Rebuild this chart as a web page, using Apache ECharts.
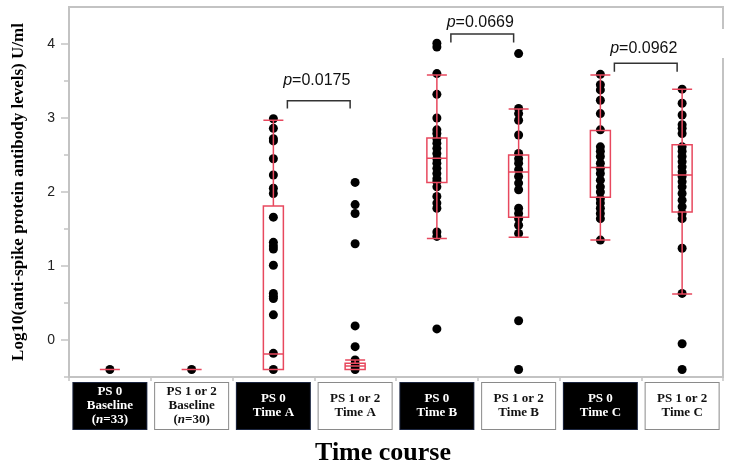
<!DOCTYPE html>
<html>
<head>
<meta charset="utf-8">
<script src="https://cdn.jsdelivr.net/npm/echarts@6/dist/echarts.min.js"></script>
<style>
  html, body { margin: 0; padding: 0; background: #fff; }
  #chart { width: 730px; height: 472px; }
</style>
</head>
<body>
<div id="chart"></div>
<script>
  // category labels (rich text: {i|n} is italic)
  const categories = [
    'PS 0\nBaseline\n({i|n}=33)', 'PS 1 or 2\nBaseline\n({i|n}=30)',
    'PS 0\nTime A', 'PS 1 or 2\nTime A',
    'PS 0\nTime B', 'PS 1 or 2\nTime B',
    'PS 0\nTime C', 'PS 1 or 2\nTime C'
  ];
  const darkLabel = [true, false, true, false, true, false, true, false];

  // y axis ticks
  const yMajorTicks = [0, 1, 2, 3, 4];
  const yMinorTicks = [-0.5, 0.5, 1.5, 2.5, 3.5];

  // box stats per group: [lower whisker, Q1, median, Q3, upper whisker]
  const boxStats = [
    [-0.398, -0.398, -0.398, -0.398, -0.398],
    [-0.398, -0.398, -0.398, -0.398, -0.398],
    [-0.398, -0.398, -0.19, 1.81, 2.97],
    [-0.398, -0.398, -0.35, -0.315, -0.27],
    [1.37, 2.13, 2.455, 2.73, 3.58],
    [1.39, 1.66, 2.27, 2.50, 3.12],
    [1.35, 1.93, 2.33, 2.83, 3.58],
    [0.62, 1.73, 2.23, 2.64, 3.39]
  ];

  // individual points per group (log10 U/ml)
  const ps0Baseline = [-0.398];
  const ps12Baseline = [-0.398];
  const ps0TimeA = [2.99, 2.86, 2.72, 2.69, 2.45, 2.23, 2.05, 1.98, 1.66, 1.32, 1.27, 1.23, 1.01, 0.63, 0.59, 0.56, 0.34, -0.18, -0.398];
  const ps12TimeA = [2.13, 1.83, 1.71, 1.30, 0.19, -0.09, -0.27, -0.32, -0.36, -0.398];
  const ps0TimeB = [4.01, 3.96, 3.60, 3.32, 3.00, 2.84, 2.79, 2.72, 2.66, 2.59, 2.52, 2.45, 2.39, 2.32, 2.25, 2.18, 2.14, 2.07, 1.94, 1.85, 1.78, 1.46, 1.40, 0.15];
  const ps12TimeB = [3.87, 3.13, 3.06, 2.97, 2.77, 2.52, 2.45, 2.39, 2.30, 2.21, 2.12, 2.03, 1.78, 1.71, 1.64, 1.55, 1.44, 0.26, -0.398];
  const ps0TimeC = [3.59, 3.45, 3.38, 3.24, 3.06, 2.84, 2.61, 2.55, 2.48, 2.39, 2.32, 2.25, 2.16, 2.07, 2.00, 1.91, 1.85, 1.78, 1.71, 1.64, 1.35];
  const ps12TimeC = [3.39, 3.20, 3.04, 2.91, 2.86, 2.79, 2.61, 2.55, 2.48, 2.41, 2.34, 2.27, 2.21, 2.14, 2.07, 1.98, 1.89, 1.80, 1.71, 1.64, 1.24, 0.63, -0.05, -0.398];
  const groups = [ps0Baseline, ps12Baseline, ps0TimeA, ps12TimeA, ps0TimeB, ps12TimeB, ps0TimeC, ps12TimeC];

  // comparisons: [from group, to group, bracket top, leg end, label y]
  const brackets = [
    [2, 3, 3.234, 3.13, 3.50],
    [4, 5, 4.135, 4.02, 4.29],
    [6, 7, 3.74, 3.625, 3.94]
  ];
  const pValues = ['0.0175', '0.0669', '0.0962'];

  const BOX_RED = '#e8485e';
  const FRAME = '#c3c3c3';

  const scatterData = [];
  groups.forEach(function (vals, i) {
    vals.forEach(function (v) { scatterData.push([i, v]); });
  });

  const catData = categories.map(function (c, i) {
    const lines = c.split('\n').length;
    return {
      value: c,
      textStyle: {
        color: darkLabel[i] ? '#fff' : '#111',
        backgroundColor: darkLabel[i] ? '#000' : '#fff',
        borderColor: darkLabel[i] ? '#1c2640' : '#8a8a8a',
        borderWidth: 1,
        padding: lines === 3 ? [2, 0] : [9, 0]
      }
    };
  });

  const chart = echarts.init(document.getElementById('chart'));
  chart.setOption({
    animation: false,
    grid: {
      left: 69, right: 7, top: 7, bottom: 95,
      show: true, borderColor: FRAME, borderWidth: 2, backgroundColor: 'transparent'
    },
    xAxis: {
      type: 'category',
      data: catData,
      boundaryGap: true,
      axisLine: { onZero: false, lineStyle: { color: FRAME, width: 2 } },
      axisTick: { show: true, interval: 0, length: 4, lineStyle: { color: FRAME, width: 1.5 } },
      axisLabel: {
        interval: 0,
        margin: 6,
        width: 73,
        align: 'center',
        fontFamily: 'Liberation Serif',
        fontWeight: 'bold',
        fontSize: 13,
        lineHeight: 14,
        rich: {
          i: { fontStyle: 'italic', fontWeight: 'bold', fontFamily: 'Liberation Serif', fontSize: 13, lineHeight: 14 }
        }
      },
      splitLine: { show: false }
    },
    yAxis: [{
      type: 'value',
      min: -0.5,
      max: 4.5,
      name: 'Log10(anti-spike protein antibody levels) U/ml',
      nameLocation: 'middle',
      nameGap: 42,
      nameTextStyle: { fontFamily: 'Liberation Serif', fontWeight: 'bold', fontSize: 17, color: '#000' },
      axisLine: { show: true, lineStyle: { color: FRAME, width: 2 } },
      axisTick: { show: true, length: 8, customValues: yMajorTicks, lineStyle: { color: FRAME, width: 1.5 } },
      axisLabel: { customValues: yMajorTicks, margin: 14, fontFamily: 'Liberation Sans', fontSize: 14, color: '#222' },
      splitLine: { show: false }
    }, {
      type: 'value',
      position: 'left',
      min: -0.5,
      max: 4.5,
      axisLine: { show: false },
      axisTick: { show: true, length: 5, customValues: yMinorTicks, lineStyle: { color: FRAME, width: 1.5 } },
      axisLabel: { show: false },
      splitLine: { show: false }
    }],
    series: [{
      type: 'scatter',
      data: scatterData,
      symbolSize: 9,
      itemStyle: { color: '#000', opacity: 1 },
      z: 2
    }, {
      type: 'boxplot',
      data: boxStats,
      boxWidth: [20, 20],
      itemStyle: { color: 'rgba(0,0,0,0)', borderColor: BOX_RED, borderWidth: 1.5 },
      z: 3
    }, {
      type: 'custom',
      data: brackets,
      z: 4,
      renderItem: function (params, api) {
        const a = api.coord([api.value(0), api.value(2)]);
        const b = api.coord([api.value(1), api.value(2)]);
        const legY = api.coord([api.value(0), api.value(3)])[1];
        const labY = api.coord([api.value(0), api.value(4)])[1];
        const x1 = a[0] + 14, x2 = b[0] - 5, y = a[1];
        return {
          type: 'group',
          children: [{
            type: 'polyline',
            shape: { points: [[x1, legY], [x1, y], [x2, y], [x2, legY]] },
            style: { stroke: '#333', lineWidth: 1.5, fill: null }
          }, {
            type: 'text',
            x: (x1 + x2) / 2 - 2,
            y: labY,
            style: {
              text: '{i|p}=' + pValues[params.dataIndex],
              fill: '#111',
              fontFamily: 'Liberation Sans',
              fontSize: 16,
              align: 'center',
              verticalAlign: 'middle',
              rich: { i: { fontStyle: 'italic', fontFamily: 'Liberation Sans', fontSize: 16, fill: '#111' } }
            }
          }]
        };
      }
    }],
    graphic: [{
      type: 'rect',
      shape: { x: 719, y: 29, width: 9, height: 29 },
      style: { fill: '#fff' },
      z: 100
    }, {
      type: 'text',
      x: 383,
      y: 453,
      style: {
        text: 'Time course',
        fontFamily: 'Liberation Serif',
        fontWeight: 'bold',
        fontSize: 26,
        fill: '#000',
        align: 'center',
        verticalAlign: 'middle'
      }
    }]
  });
</script>
</body>
</html>
